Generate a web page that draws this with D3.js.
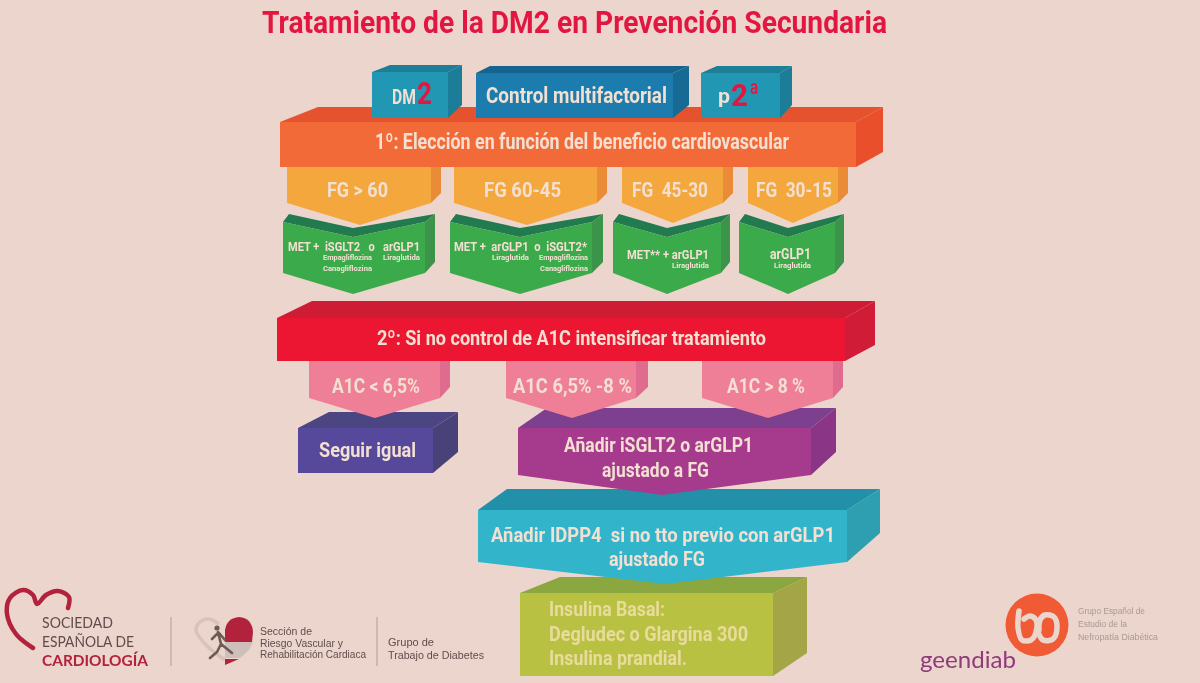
<!DOCTYPE html>
<html>
<head>
<meta charset="utf-8">
<script src="https://cdn.jsdelivr.net/npm/d3@7"></script>
<style>
  html, body { margin: 0; padding: 0; background: #ecd5cd; }
  svg { display: block; }
  text { white-space: pre; }
</style>
</head>
<body>
<div class="main"></div>
<script>
// chart text
const title = "Tratamiento de la DM2 en Prevención Secundaria";
const topLabels = ["DM", "2", "Control multifactorial", "p", "2", "ª"];
const stepLabels = [
  "1º: Elección en función del beneficio cardiovascular",
  "2º: Si no control de A1C intensificar tratamiento",
];
const fgLabels = ["FG > 60", "FG 60-45", "FG  45-30", "FG  30-15"];
const drugLabels = ["MET +  iSGLT2   o   arGLP1", "MET +  arGLP1  o  iSGLT2*", "MET** + arGLP1", "arGLP1"];
const drugNames = ["Empagliflozina", "Canagliflozina", "Liraglutida"];
const a1cLabels = ["A1C < 6,5%", "A1C 6,5% -8 %", "A1C > 8 %"];
const stepTwoLabels = [
  "Seguir igual",
  "Añadir iSGLT2 o arGLP1",
  "ajustado a FG",
  "Añadir IDPP4  si no tto previo con arGLP1",
  "ajustado FG",
];
const insulinLabels = ["Insulina Basal:", "Degludec o Glargina 300", "Insulina prandial."];
const secLabels = ["SOCIEDAD", "ESPAÑOLA DE", "CARDIOLOGÍA"];
const sectionLabels = ["Sección de", "Riesgo Vascular y", "Rehabilitación Cardiaca"];
const groupLabels = ["Grupo de", "Trabajo de Diabetes"];
const geenLabels = ["geendiab", "Grupo Español de", "Estudio de la", "Nefropatía Diabética"];

const fullwidth = 1200;
const fullheight = 683;
const narrow = "'Liberation Sans Narrow', Roboto, sans-serif";
const logoFont = "Lato, sans-serif";
const smallFont = "'Liberation Sans', sans-serif";
const cream = "#f3e0d2";
const titleRed = "#e2183f";

const orange = ["#f26b37", "#e4532e", "#e9502b"];
const yellow = ["#f4a73d", "#f4a73d", "#ea8b38"];
const green = ["#3aaa4b", "#217a50", "#3b9449"];
const teal = ["#2497b3", "#1d7f97", "#1f7d98"];
const blue = ["#1a7cae", "#15648f", "#196a94"];
const red = ["#ec1731", "#cf1f35", "#d11f38"];
const pink = ["#ef7e97", "#ef7e97", "#df6c8e"];
const indigo = ["#574a9b", "#4b4582", "#4a4379"];
const purple = ["#a63a8d", "#7c408e", "#8a3585"];
const cyan = ["#31b4ca", "#2290a9", "#2e9fb1"];
const lime = ["#b9c143", "#8aa740", "#a3a546"];

const svg = d3
  .select(".main")
  .append("svg")
  .attr("width", fullwidth)
  .attr("height", fullheight)
  .attr("viewBox", [0, 0, fullwidth, fullheight]);

svg.append("defs")
  .append("filter")
  .attr("id", "soft")
  .append("feGaussianBlur")
  .attr("stdDeviation", 0.45);

const root = svg.append("g").attr("filter", "url(#soft)");
root.append("rect").attr("width", fullwidth).attr("height", fullheight).attr("fill", "#ecd5cd");

const poly = d3.line().curve(d3.curveLinearClosed);

// 3d box: front face with optional notch on top and arrow tip below
function block(o, col) {
  const g = root.append("g");
  const topFace = [[o.l, o.t], [o.bl ?? o.l, o.bt ?? o.t]];
  if (o.notch) topFace.push([o.notch[0], o.notch[1] - 9]);
  topFace.push([o.br, o.bt ?? o.t], [o.r, o.t]);
  if (o.notch) topFace.push(o.notch);
  g.append("path").attr("d", poly(topFace)).attr("fill", col[1]);

  g.append("path")
    .attr("d", poly([[o.r, o.t], [o.br, o.bt ?? o.t], [o.br, o.sb], [o.r, o.b]]))
    .attr("fill", col[2]);

  const front = [[o.l, o.t]];
  if (o.notch) front.push(o.notch);
  front.push([o.r, o.t], [o.r, o.b]);
  if (o.tip) front.push(o.tip);
  front.push([o.l, o.b]);
  g.append("path").attr("d", poly(front)).attr("fill", col[0]);
}

// text squeezed to the width it has in the picture
function label(str, x0, x1, y, size, fill, font, weight) {
  return root
    .append("text")
    .attr("x", x0)
    .attr("y", y)
    .attr("font-family", font || narrow)
    .attr("font-weight", weight || "bold")
    .attr("font-size", size)
    .attr("fill", fill || cream)
    .attr("textLength", x1 - x0)
    .attr("lengthAdjust", "spacingAndGlyphs")
    .text(str);
}

// squeezed by scaling, for the parts that sit right against each other
function tightLabel(str, x0, x1, y, size, fill) {
  const t = root
    .append("text")
    .attr("font-family", narrow)
    .attr("font-weight", "bold")
    .attr("font-size", size)
    .attr("fill", fill)
    .text(str);
  const k = (x1 - x0) / t.node().getComputedTextLength();
  t.attr("transform", "translate(" + x0 + "," + y + ") scale(" + k + ",1)");
}

//Title
label(title, 262, 887, 33, 32, titleRed);

// lower blocks, drawn bottom up so every tip lies over the next box
block({ l: 520, r: 773, t: 593, b: 676, bl: 560, bt: 577, br: 807, sb: 653 }, lime);
block({ l: 478, r: 847, t: 510, b: 562, bl: 507, bt: 489, br: 880, sb: 533, tip: [665, 584] }, cyan);
block({ l: 518, r: 811, t: 428, b: 475, bl: 547, bt: 408, br: 836, sb: 452, tip: [662, 495] }, purple);
block({ l: 298, r: 433, t: 428, b: 473, bl: 329, bt: 412, br: 458, sb: 452 }, indigo);

block({ l: 309, r: 440, t: 361, b: 398, br: 450, sb: 387, tip: [375, 418] }, pink);
block({ l: 506, r: 636, t: 361, b: 398, br: 648, sb: 387, tip: [572, 418] }, pink);
block({ l: 702, r: 833, t: 361, b: 398, br: 843, sb: 387, tip: [768, 418] }, pink);
block({ l: 277, r: 845, t: 318, b: 361, bl: 312, bt: 301, br: 875, sb: 345 }, red);

// green drug boxes
block({ l: 283, r: 425, t: 222, b: 273, bl: 289, bt: 214, br: 435, sb: 262, notch: [353, 237], tip: [353, 294] }, green);
block({ l: 450, r: 592, t: 222, b: 273, bl: 456, bt: 214, br: 603, sb: 262, notch: [520, 237], tip: [520, 294] }, green);
block({ l: 613, r: 721, t: 222, b: 273, bl: 619, bt: 214, br: 730, sb: 262, notch: [667, 237], tip: [667, 294] }, green);
block({ l: 739, r: 835, t: 222, b: 273, bl: 745, bt: 214, br: 844, sb: 262, notch: [788, 237], tip: [788, 294] }, green);

// FG chevrons
block({ l: 287, r: 431, t: 167, b: 203, br: 441, sb: 193, tip: [360, 225] }, yellow);
block({ l: 454, r: 597, t: 167, b: 203, br: 607, sb: 193, tip: [527, 225] }, yellow);
block({ l: 622, r: 723, t: 167, b: 203, br: 733, sb: 193, tip: [673, 223] }, yellow);
block({ l: 748, r: 838, t: 167, b: 203, br: 848, sb: 193, tip: [793, 223] }, yellow);

block({ l: 280, r: 856, t: 122, b: 167, bl: 318, bt: 107, br: 883, sb: 152 }, orange);

block({ l: 372, r: 448, t: 72, b: 118, bl: 390, bt: 65, br: 462, sb: 105 }, teal);
block({ l: 476, r: 673, t: 73, b: 118, bl: 490, bt: 66, br: 689, sb: 105 }, blue);
block({ l: 701, r: 780, t: 73, b: 118, bl: 717, bt: 66, br: 792, sb: 105 }, teal);

// top row
tightLabel(topLabels[0], 392, 416, 104, 21, cream);
tightLabel(topLabels[1], 417, 432, 104, 31, titleRed);
label(topLabels[2], 486, 667, 103, 22);
tightLabel(topLabels[3], 718, 730, 103, 21, cream);
tightLabel(topLabels[4], 731, 748, 106, 32, titleRed);
tightLabel(topLabels[5], 749, 759, 103, 28, titleRed);

// first step
label(stepLabels[0], 375, 789, 149, 22);
label(fgLabels[0], 327, 388, 197, 21);
label(fgLabels[1], 484, 561, 197, 21);
label(fgLabels[2], 632, 708, 197, 21);
label(fgLabels[3], 756, 832, 197, 21);

label(drugLabels[0], 288, 420, 251, 12.5);
label(drugNames[0], 323, 372, 260, 7);
label(drugNames[2], 383, 420, 260, 7);
label(drugNames[1], 323, 372, 271, 7);

label(drugLabels[1], 454, 587, 251, 12.5);
label(drugNames[2], 492, 529, 260, 7);
label(drugNames[0], 539, 588, 260, 7);
label(drugNames[1], 540, 588, 271, 7);

label(drugLabels[2], 627, 709, 259, 12.5);
label(drugNames[2], 672, 709, 268, 7);

label(drugLabels[3], 770, 811, 259, 14);
label(drugNames[2], 774, 811, 268, 7);

// second step
label(stepLabels[1], 377, 766, 345, 21);
label(a1cLabels[0], 332, 420, 393, 21);
label(a1cLabels[1], 513, 632, 393, 21);
label(a1cLabels[2], 727, 805, 393, 21);

label(stepTwoLabels[0], 319, 416, 457, 21);
label(stepTwoLabels[1], 564, 753, 452, 20.5);
label(stepTwoLabels[2], 602, 709, 477, 20.5);
label(stepTwoLabels[3], 491, 835, 542, 20.5);
label(stepTwoLabels[4], 609, 705, 566, 20.5);

label(insulinLabels[0], 549, 665, 616, 20.5, "#e8dc9c");
label(insulinLabels[1], 549, 748, 641, 20.5, "#e8dc9c");
label(insulinLabels[2], 549, 687, 665, 20.5, "#e8dc9c");

// logos at the bottom
const curve = d3.line().curve(d3.curveCatmullRom);
const wine = "#b2233c";
const brownText = "#5f4d4b";

root.append("path")
  .attr("d", curve([[33, 648], [16, 634], [7, 614], [10, 598], [23, 590], [33, 595], [37, 604], [46, 595], [58, 591], [69, 597], [68, 608]]))
  .attr("fill", "none")
  .attr("stroke", wine)
  .attr("stroke-width", 4.5)
  .attr("stroke-linecap", "round");

label(secLabels[0], 42, 113, 628, 15, brownText, logoFont, "normal");
label(secLabels[1], 42, 134, 647, 15, brownText, logoFont, "normal");
label(secLabels[2], 42, 148, 666, 15, wine, logoFont, "bold");

root.append("line").attr("x1", 171).attr("x2", 171).attr("y1", 617).attr("y2", 666).attr("stroke", "#b6a9a3").attr("stroke-width", 1.2);

// section heart with runner
root.append("path")
  .attr("d", curve([[225, 660], [206, 645], [196, 630], [200, 622], [209, 619], [219, 624]]))
  .attr("fill", "none")
  .attr("stroke", "#d6c4bc")
  .attr("stroke-width", 3.5);
root.append("path")
  .attr("d", poly([[225, 642], [253, 642], [249, 650], [240, 658], [225, 658]]))
  .attr("fill", "#cdbfb9");
root.append("path")
  .attr("d", "M225,642 L225,630 Q227,618 239,617 Q252,618 253,632 L252,642 Z")
  .attr("fill", wine);
root.append("path")
  .attr("d", poly([[225, 659], [239, 659], [225, 665]]))
  .attr("fill", wine);
root.append("circle").attr("cx", 217).attr("cy", 628).attr("r", 2.6).attr("fill", "#6c5b53");
root.append("path")
  .attr("d", "M218,632 L221,644 L232,653 M221,644 L217,652 L210,658 M218,633 L212,639 M219,633 L225,640")
  .attr("fill", "none")
  .attr("stroke", "#6c5b53")
  .attr("stroke-width", 2.6)
  .attr("stroke-linecap", "round");

label(sectionLabels[0], 260, 312, 635, 10, brownText, smallFont, "normal");
label(sectionLabels[1], 260, 343, 646.5, 10, brownText, smallFont, "normal");
label(sectionLabels[2], 260, 366, 658, 10, brownText, smallFont, "normal");

root.append("line").attr("x1", 377).attr("x2", 377).attr("y1", 617).attr("y2", 666).attr("stroke", "#b6a9a3").attr("stroke-width", 1.2);

label(groupLabels[0], 388, 434, 646, 10, brownText, smallFont, "normal");
label(groupLabels[1], 388, 484, 659, 10, brownText, smallFont, "normal");

// geendiab
root.append("circle").attr("cx", 1037).attr("cy", 625).attr("r", 31.5).attr("fill", "#f05a36");
root.append("path")
  .attr("d", curve([[1019, 611], [1018, 628], [1022, 640], [1031, 640], [1036, 632], [1036, 620], [1030, 616], [1024, 619]]))
  .attr("fill", "none")
  .attr("stroke", "#ecd5cd")
  .attr("stroke-width", 5.5)
  .attr("stroke-linecap", "round");
root.append("path")
  .attr("d", curve([[1038, 632], [1043, 640], [1053, 639], [1057, 628], [1054, 617], [1045, 615], [1040, 620], [1039, 630]]))
  .attr("fill", "none")
  .attr("stroke", "#ecd5cd")
  .attr("stroke-width", 5.5)
  .attr("stroke-linecap", "round");

label(geenLabels[0], 920, 1016, 668, 24, "#8e3a78", logoFont, "normal");
label(geenLabels[1], 1078, 1145, 614, 8.5, "#a99a94", smallFont, "normal");
label(geenLabels[2], 1078, 1127, 627, 8.5, "#a99a94", smallFont, "normal");
label(geenLabels[3], 1078, 1158, 640, 8.5, "#a99a94", smallFont, "normal");
</script>
</body>
</html>
